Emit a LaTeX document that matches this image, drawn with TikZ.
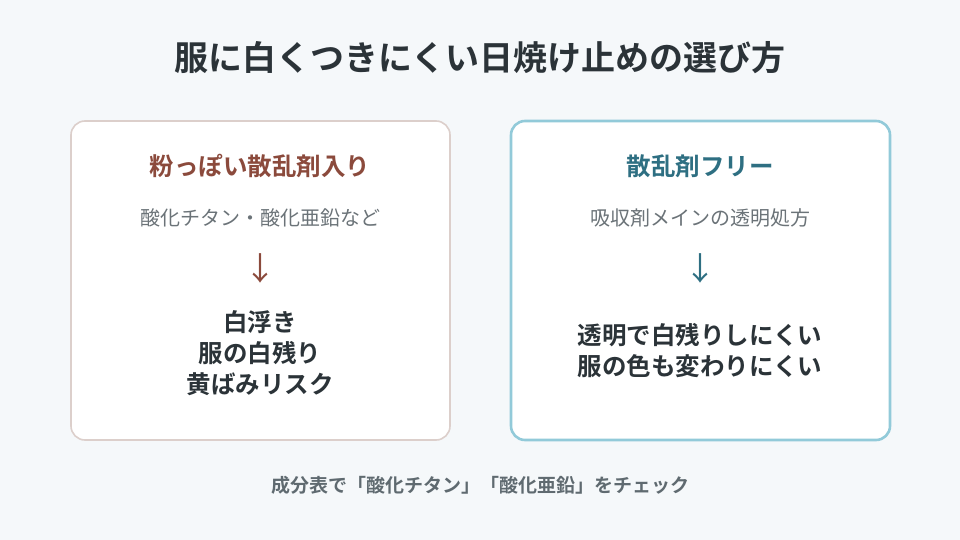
\documentclass[tikz,border=0pt]{standalone}
\usepackage{fontspec}
\setmainfont{Noto Sans CJK JP}[BoldFont={Noto Sans CJK JP Bold}]
\definecolor{bg}{HTML}{F5F8FA}
\definecolor{ink}{HTML}{2B3338}
\definecolor{brown}{HTML}{8B4A3C}
\definecolor{teal}{HTML}{2E6F82}
\definecolor{lb}{HTML}{DCCFCB}
\definecolor{rb}{HTML}{92CAD9}
\definecolor{gr}{HTML}{6B7378}
\definecolor{ft}{HTML}{5F6A70}
\tikzset{card/.style={rounded corners=14pt,fill=white},
 head/.style={font=\bfseries\fontsize{24.5}{28}\selectfont},
 sub/.style={text=gr,font=\fontsize{20}{24}\selectfont},
 arr/.style={font=\fontsize{32}{36}\selectfont},
 body/.style={text=ink,font=\bfseries\fontsize{24.5}{31}\selectfont,align=center}}
\begin{document}
\begin{tikzpicture}[x=1pt,y=-1pt]
\fill[bg] (0,0) rectangle (960,540);
\useasboundingbox (0,0) rectangle (960,540);
\node[text=ink,font=\bfseries\fontsize{34}{40}\selectfont] (title) at (480,58) {服に白くつきにくい日焼け止めの選び方};
\draw[card,draw=lb,line width=1.6pt] (71,121) rectangle (450,440);
\draw[card,draw=rb,line width=2.6pt] (511,121) rectangle (890,440);
\node[head,text=brown] (lh) at (260,166) {粉っぽい散乱剤入り};
\node[sub] (ls) at (260,218) {酸化チタン・酸化亜鉛など};
\node[arr,text=brown] (la) at (260,268) {↓};
\node[body] (lb) at (260,353) {白浮き\\服の白残り\\黄ばみリスク};
\node[head,text=teal] (rh) at (700,166) {散乱剤フリー};
\node[sub] (rs) at (700,218) {吸収剤メインの透明処方};
\node[arr,text=teal] (ra) at (700,268) {↓};
\node[body] (rb2) at (700,351) {透明で白残りしにくい\\服の色も変わりにくい};
\node[text=ft,font=\bfseries\fontsize{19}{22}\selectfont] (foot) at (480,485) {成分表で「酸化チタン」「酸化亜鉛」をチェック};
\end{tikzpicture}
\end{document}
